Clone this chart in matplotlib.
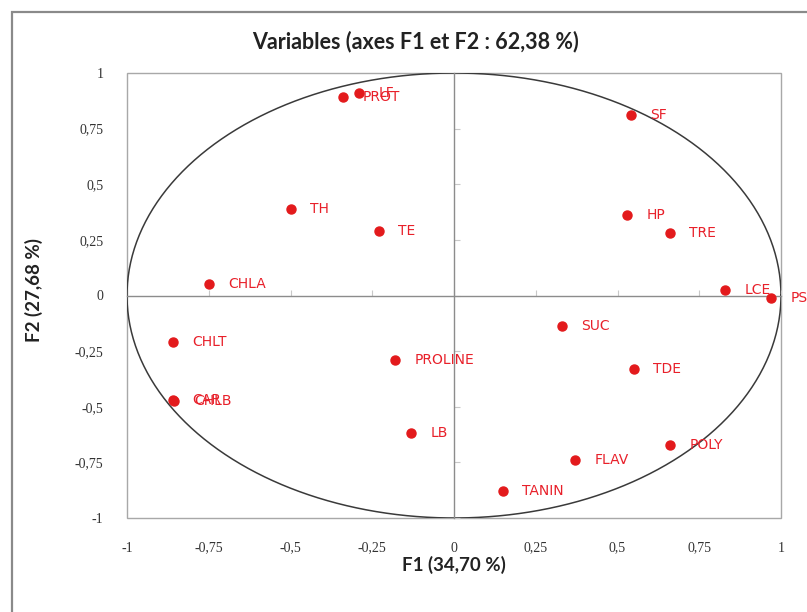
import numpy as np
import matplotlib
matplotlib.use('Agg')
import matplotlib.pyplot as plt
from matplotlib.patches import Rectangle

# correlations of the variables with the first two factors
variables = ['LF', 'PROT', 'SF', 'TH', 'TE', 'HP', 'TRE', 'CHLA', 'LCE', 'PSF',
             'SUC', 'CHLT', 'PROLINE', 'TDE', 'CAR', 'CHLB', 'LB', 'POLY',
             'FLAV', 'TANIN']
f1 = [-0.29, -0.34, 0.54, -0.50, -0.23, 0.53, 0.66, -0.75, 0.83, 0.97,
      0.33, -0.86, -0.18, 0.55, -0.86, -0.855, -0.13, 0.66, 0.37, 0.15]
f2 = [0.91, 0.89, 0.81, 0.39, 0.29, 0.36, 0.28, 0.05, 0.025, -0.01,
      -0.135, -0.21, -0.29, -0.33, -0.47, -0.475, -0.62, -0.67, -0.74, -0.88]

ticks = [-1, -0.75, -0.5, -0.25, 0, 0.25, 0.5, 0.75, 1]
tick_labels = ['-1', '-0,75', '-0,5', '-0,25', '0', '0,25', '0,5', '0,75', '1']

W, H = 807, 612
fig = plt.figure(figsize=(W / 100, H / 100), dpi=100)
fig.patch.set_facecolor('white')

# chart frame (runs off the right and bottom edges)
fig.patches.append(Rectangle((12 / W, -0.1), 1.2, 1.1 - 12 / H,
                             transform=fig.transFigure, fill=False,
                             ec='#8a8a8a', lw=1.6))

left, right, top, bottom = 127, 781, 73, 518
ax = fig.add_axes([left / W, 1 - bottom / H, (right - left) / W, (bottom - top) / H])
ax.set_xlim(-1, 1)
ax.set_ylim(-1, 1)

# axes through the origin
for side in ['top', 'right']:
    ax.spines[side].set_visible(False)
ax.spines['bottom'].set_position(('data', 0))
ax.spines['left'].set_position(('data', 0))
for side in ['bottom', 'left']:
    ax.spines[side].set_color('#8c8c8c')
    ax.spines[side].set_linewidth(1.0)
ax.set_xticks(ticks)
ax.set_yticks(ticks)
ax.tick_params(direction='in', length=4, color='#c8c8c8',
               labelbottom=False, labelleft=False)

# plot area border
ax.add_patch(Rectangle((0, 0), 1, 1, transform=ax.transAxes, fill=False,
                       ec='#a8a8a8', lw=1.0, clip_on=False))

# tick labels along the plot area edges
tfont = dict(family='Liberation Serif', size=10, color='#333333')
sx = ax.secondary_xaxis('bottom')
sx.set_xticks(ticks, tick_labels, **tfont)
sx.tick_params(length=0, pad=17)
sx.spines['bottom'].set_visible(False)
sy = ax.secondary_yaxis('left')
sy.set_yticks(ticks, tick_labels, **tfont)
sy.tick_params(length=0, pad=17)
sy.spines['left'].set_visible(False)

# correlation circle
t = np.linspace(0, 2 * np.pi, 400)
ax.plot(np.cos(t), np.sin(t), color='#3a3a3a', lw=1.1, zorder=2)

ax.plot(f1, f2, 'o', color='#e31a1c', ms=6.5, mec='#e31a1c', zorder=3, clip_on=False)
for name, x, y in zip(variables, f1, f2):
    ax.annotate(name, (x, y), xytext=(14, 0), textcoords='offset points',
                va='center', ha='left', color='#e8202a', fontsize=10,
                family='DejaVu Sans', zorder=4, annotation_clip=False)

fig.text(416 / W, 1 - 42 / H, 'Variables (axes F1 et F2 : 62,38 %)',
         ha='center', va='center', fontsize=15.5, fontweight='bold',
         family='Lato', color='#222222')
fig.text(454 / W, 1 - 565 / H, 'F1 (34,70 %)', ha='center', va='center',
         fontsize=13.5, fontweight='bold', family='Lato', color='#222222')
fig.text(34 / W, 1 - 290 / H, 'F2 (27,68 %)', ha='center', va='center',
         rotation=90, fontsize=13.5, fontweight='bold', family='Lato',
         color='#222222')

fig.savefig('out.png', dpi=100)
